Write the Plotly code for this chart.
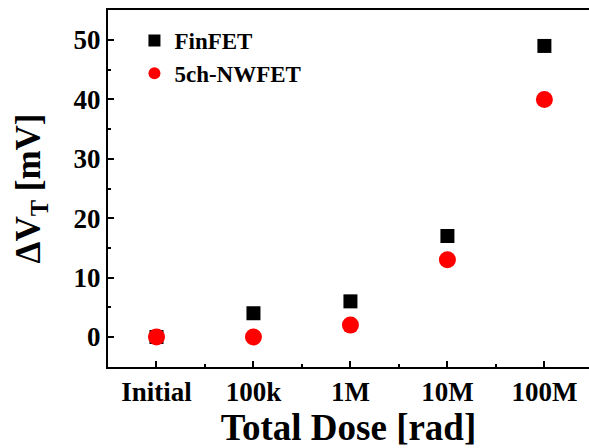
import plotly.graph_objects as go

categories = ["Initial", "100k", "1M", "10M", "100M"]
finfet = [0, 4, 6, 17, 49]
nwfet = [0, 0, 2, 13, 40]

xpos = list(range(len(categories)))
font_family = "Liberation Serif, Times New Roman, serif"

fig = go.Figure()
fig.add_trace(go.Scatter(x=xpos, y=finfet, mode="markers", name="FinFET",
                         legendgroup="a",
                         marker=dict(symbol="square", size=14, color="black")))
fig.add_trace(go.Scatter(x=xpos, y=nwfet, mode="markers", name="5ch-NWFET",
                         legendgroup="b",
                         marker=dict(symbol="circle", size=17, color="#ff0000")))

fig.update_layout(
    width=589, height=448,
    margin=dict(l=108, r=0, t=10, b=81),
    plot_bgcolor="white", paper_bgcolor="white",
    font=dict(family=font_family, color="black"),
    showlegend=True,
    legend=dict(x=0.055, y=0.975, xanchor="left", yanchor="top",
                font=dict(size=23, family=font_family, weight="bold"),
                bgcolor="rgba(0,0,0,0)", tracegroupgap=0,
                itemsizing="constant"),
    xaxis=dict(
        range=[-0.5, 4.46],
        tickmode="array", tickvals=xpos, ticktext=categories,
        ticks="inside", ticklen=6, tickwidth=2, tickcolor="black",
        showline=True, linewidth=2, linecolor="black", mirror=True,
        showgrid=False, zeroline=False,
        tickfont=dict(size=27, family=font_family, weight="bold"),
        minor=dict(tickvals=[0.5, 1.5, 2.5, 3.5], ticks="inside", ticklen=3,
                   tickwidth=2, tickcolor="black"),
        title=dict(text="Total Dose [rad]",
                   font=dict(size=37, family=font_family, weight="bold"),
                   standoff=4),
    ),
    yaxis=dict(
        range=[-5.05, 55.05],
        tickmode="linear", tick0=0, dtick=10,
        ticks="inside", ticklen=6, tickwidth=2, tickcolor="black",
        showline=True, linewidth=2, linecolor="black", mirror=False,
        showgrid=False, zeroline=False,
        tickfont=dict(size=27, family=font_family, weight="bold"),
        minor=dict(dtick=5, tick0=0, ticks="inside", ticklen=3,
                   tickwidth=2, tickcolor="black"),
        title=dict(text="ΔV<sub>T</sub> [mV]",
                   font=dict(size=35, family=font_family, weight="bold"),
                   standoff=22),
    ),
)

fig.write_html("out.html")
